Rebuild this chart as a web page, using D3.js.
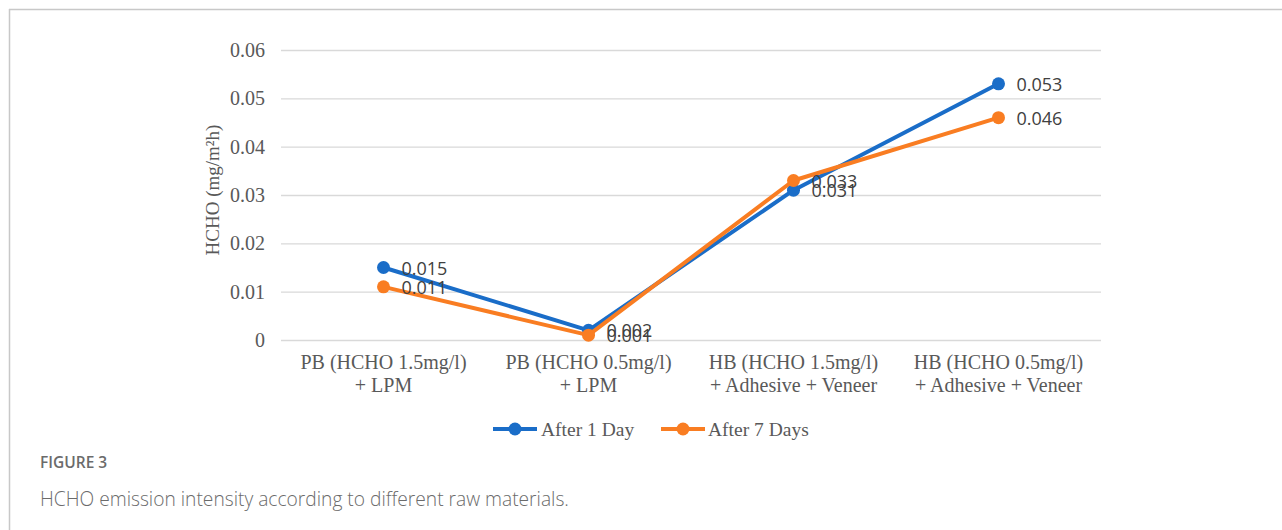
<!DOCTYPE html>
<html>
<head>
<meta charset="utf-8">
<script src="https://cdn.jsdelivr.net/npm/d3@7"></script>
<style>
  html, body { margin: 0; padding: 0; background: #fff; }
  svg { display: block; }
</style>
</head>
<body>
<svg id="chart" width="1282" height="530"></svg>
<script>
// Categories (two-line labels) and measured HCHO emission values
const categories = [
  ["PB (HCHO 1.5mg/l)", "+ LPM"],
  ["PB (HCHO 0.5mg/l)", "+ LPM"],
  ["HB (HCHO 1.5mg/l)", "+ Adhesive + Veneer"],
  ["HB (HCHO 0.5mg/l)", "+ Adhesive + Veneer"]
];
const afterOneDay = [0.015, 0.002, 0.031, 0.053];
const afterSevenDays = [0.011, 0.001, 0.033, 0.046];
const seriesNames = ["After 1 Day", "After 7 Days"];
const yTicks = [0, 0.01, 0.02, 0.03, 0.04, 0.05, 0.06];
const yTitle = "HCHO (mg/m²h)";
const captionTitle = "FIGURE 3";
const captionText = "HCHO emission intensity according to different raw materials.";

const colors = ["#1a6dc8", "#f97d22"];
const series = [afterOneDay, afterSevenDays];
const serif = "'Liberation Serif', 'Times New Roman', serif";
const sans = "'Open Sans', 'Noto Sans', sans-serif";

const svg = d3.select("#chart");

// Panel frame (top and left rules)
svg.append("line").attr("x1", 9).attr("x2", 1282).attr("y1", 9.5).attr("y2", 9.5)
  .attr("stroke", "#c8c8c8").attr("stroke-width", 1.5);
svg.append("line").attr("x1", 9.5).attr("x2", 9.5).attr("y1", 9).attr("y2", 530)
  .attr("stroke", "#c8c8c8").attr("stroke-width", 1.5);

const plot = { left: 281, right: 1101, top: 50, bottom: 340 };

const x = d3.scaleBand()
  .domain(d3.range(categories.length))
  .range([plot.left, plot.right]);
const cx = i => x(i) + x.bandwidth() / 2;

const y = d3.scaleLinear().domain([0, 0.06]).range([plot.bottom, plot.top]);

// Horizontal gridlines with tick labels
const yAxis = d3.axisLeft(y)
  .tickValues(yTicks)
  .tickSize(-(plot.right - plot.left))
  .tickPadding(16)
  .tickFormat(d => d === 0 ? "0" : d3.format(".2f")(d));

const gy = svg.append("g")
  .attr("transform", `translate(${plot.left},0)`)
  .call(yAxis);
gy.select(".domain").remove();
gy.selectAll(".tick line").attr("stroke", "#d9d9d9").attr("stroke-width", 1.3);
gy.selectAll(".tick text")
  .attr("font-family", serif)
  .attr("font-size", 20)
  .attr("fill", "#595959");

// Y-axis title
svg.append("text")
  .attr("transform", `translate(219,190) rotate(-90)`)
  .attr("text-anchor", "middle")
  .attr("font-family", serif)
  .attr("font-size", 19)
  .attr("fill", "#595959")
  .text(yTitle);

// Category labels
const catG = svg.append("g");
categories.forEach((lines, i) => {
  const t = catG.append("text")
    .attr("text-anchor", "middle")
    .attr("font-family", serif)
    .attr("font-size", 20)
    .attr("fill", "#595959");
  lines.forEach((ln, j) => {
    t.append("tspan").attr("x", cx(i)).attr("y", 369 + j * 23).text(ln);
  });
});

// Lines and markers
const line = d3.line().x((d, i) => cx(i)).y(d => y(d));
series.forEach((vals, s) => {
  svg.append("path")
    .datum(vals)
    .attr("d", line)
    .attr("fill", "none")
    .attr("stroke", colors[s])
    .attr("stroke-width", 4)
    .attr("stroke-linejoin", "round");
  svg.append("g").selectAll("circle")
    .data(vals)
    .join("circle")
    .attr("cx", (d, i) => cx(i))
    .attr("cy", d => y(d))
    .attr("r", 6.5)
    .attr("fill", colors[s]);
});

// Data labels
series.forEach((vals, s) => {
  svg.append("g").selectAll("text")
    .data(vals)
    .join("text")
    .attr("x", (d, i) => cx(i) + 18)
    .attr("y", d => y(d) + 7)
    .attr("font-family", sans)
    .attr("font-size", 18)
    .attr("fill", "#404040")
    .text(d => d3.format(".3f")(d));
});

// Legend
const legendItems = [
  { x: 493, tx: 542 },
  { x: 661, tx: 709 }
];
legendItems.forEach((it, s) => {
  const g = svg.append("g");
  g.append("line")
    .attr("x1", it.x).attr("x2", it.x + 44)
    .attr("y1", 429).attr("y2", 429)
    .attr("stroke", colors[s]).attr("stroke-width", 4);
  g.append("circle")
    .attr("cx", it.x + 22).attr("cy", 429).attr("r", 6.5)
    .attr("fill", colors[s]);
  g.append("text")
    .attr("x", it.tx - 1).attr("y", 436)
    .attr("font-family", serif)
    .attr("font-size", 19.5)
    .attr("fill", "#595959")
    .text(seriesNames[s]);
});

// Caption
svg.append("text")
  .attr("x", 40).attr("y", 468)
  .attr("font-family", sans)
  .attr("font-size", 15.5)
  .attr("font-weight", 600)
  .attr("fill", "#6b6b6b")
  .text(captionTitle);
svg.append("text")
  .attr("x", 40).attr("y", 506)
  .attr("font-family", sans)
  .attr("font-size", 19.2)
  .attr("font-weight", 300)
  .attr("fill", "#6b6b6b")
  .text(captionText);
</script>
</body>
</html>
